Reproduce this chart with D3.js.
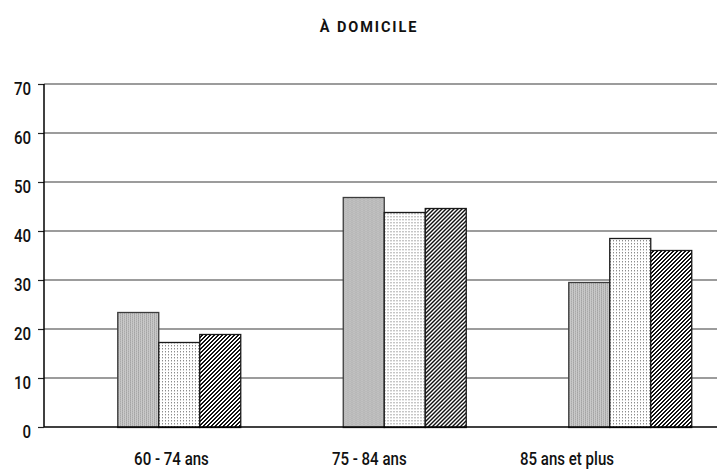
<!DOCTYPE html>
<html><head><meta charset="utf-8">
<script src="https://cdn.jsdelivr.net/npm/d3@7"></script>
<style>
body{margin:0;background:#fff;}
text{font-family:Roboto,"Liberation Sans",sans-serif;}
</style></head>
<body><svg id="c" width="717" height="471"></svg>
<script>
const title = "À DOMICILE";
const categories = ["60 - 74 ans", "75 - 84 ans", "85 ans et plus"];
const seriesNames = ["s1", "s2", "s3"];
const series1 = [23.5, 46.9, 29.5];
const series2 = [17.3, 43.9, 38.5];
const series3 = [18.9, 44.75, 36.2];
const yTicks = [0, 10, 20, 30, 40, 50, 60, 70];

(function(){
const svg = d3.select("#c");
const defs = svg.append("defs");
const sx = 0.86;

function pixelPattern(id, w, h, bg, fn){
  const p = defs.append("pattern").attr("id", id).attr("patternUnits","userSpaceOnUse")
    .attr("width", w).attr("height", h);
  p.append("rect").attr("width", w).attr("height", h).attr("fill", bg);
  for(let x=0;x<w;x++) for(let y=0;y<h;y++){
    const c = fn(x,y);
    if(c) p.append("rect").attr("x",x).attr("y",y).attr("width",1).attr("height",1).attr("fill",c).attr("shape-rendering","crispEdges");
  }
}
pixelPattern("pGray", 4, 2, "#c9c9c9", (x,y)=> x===0 ? (y===0 ? "#a4a4a4" : "#b0b0b0") : (x===2 ? (y===1 ? "#aaaaaa" : "#b8b8b8") : null));
pixelPattern("pDot", 3, 3, "#ffffff", (x,y)=> (x===0 && y===0) ? "#8c8c8c" : ((x===0 && y===1) ? "#cfcfcf" : null));
pixelPattern("pHatch", 4, 4, "#ffffff", (x,y)=> ((x+y)%4===2 || (x+y)%4===3) ? "#111" : null);
const fills = ["url(#pGray)", "url(#pDot)", "url(#pHatch)"];
const strokes = ["#3c3c3c", "#1a1a1a", "#1a1a1a"];

const mLeft = 44, mRight = 717, mTop = 84, mBottom = 427;
const y = d3.scaleLinear().domain([0, 70]).range([mBottom, mTop]);
const x0 = d3.scaleBand().domain(categories).range([66, 742.5]).padding(0);
const x1 = d3.scaleBand().domain(seriesNames)
  .range([(x0.bandwidth()-123)/2, (x0.bandwidth()+123)/2]).padding(0);
const xl = d3.scaleBand().domain(categories).range([72.6, 665.9]);

// title
svg.append("text").attr("x", 369).attr("y", 32).attr("text-anchor","middle")
  .attr("font-size", 14.5).attr("font-weight","bold").attr("letter-spacing", 1.9)
  .attr("fill", "#111").text(title);

// gridlines
svg.append("g").selectAll("line").data(yTicks.filter(d=>d>0)).join("line")
  .attr("x1", mLeft).attr("x2", mRight).attr("y1", d=>y(d)).attr("y2", d=>y(d))
  .attr("stroke", "#3a3a3a").attr("stroke-width", 1.2);

// bars
const data = categories.map((c,i)=>({c, vals:[series1[i], series2[i], series3[i]]}));
const g = svg.append("g").selectAll("g").data(data).join("g")
  .attr("transform", d=>`translate(${x0(d.c)},0)`);
g.selectAll("rect").data(d=>d.vals.map((v,j)=>({k:seriesNames[j], v, j}))).join("rect")
  .attr("x", d=>x1(d.k)+0.5).attr("width", x1.bandwidth())
  .attr("y", d=>Math.round(y(d.v))+0.5).attr("height", d=>mBottom-Math.round(y(d.v)))
  .attr("fill", d=>fills[d.j]).attr("stroke", d=>strokes[d.j]).attr("stroke-width", 1.3);

// y axis
const ya = d3.axisLeft(y).tickValues(yTicks).tickSize(6).tickPadding(7);
const yg = svg.append("g").attr("transform", `translate(${mLeft},0)`).call(ya);
yg.select(".domain").remove();
yg.selectAll(".tick line").attr("stroke", "#222").attr("stroke-width", 1.2);
yg.selectAll(".tick text").attr("font-size", 17.5).attr("font-weight", 500).attr("fill","#111")
  .attr("dy", "0.6em").attr("x", -13/sx).attr("transform", `scale(${sx},1)`)
  .attr("font-family", null);

svg.append("line").attr("x1", mLeft).attr("x2", mLeft).attr("y1", mTop).attr("y2", mBottom)
  .attr("stroke", "#000").attr("stroke-width", 1.5);
svg.append("line").attr("x1", mLeft).attr("x2", mRight).attr("y1", mBottom).attr("y2", mBottom)
  .attr("stroke", "#000").attr("stroke-width", 1.6);

// x labels
const xa = d3.axisBottom(xl).tickSize(0).tickPadding(0);
const xg = svg.append("g").attr("transform", `translate(0,453)`).call(xa);
xg.select(".domain").remove();
xg.selectAll(".tick text").attr("font-size", 17.5).attr("font-weight", 500).attr("fill","#111")
  .attr("dy","0.7em").attr("transform", `scale(${sx},1)`)
  .attr("font-family", null);
})();
</script></body></html>
